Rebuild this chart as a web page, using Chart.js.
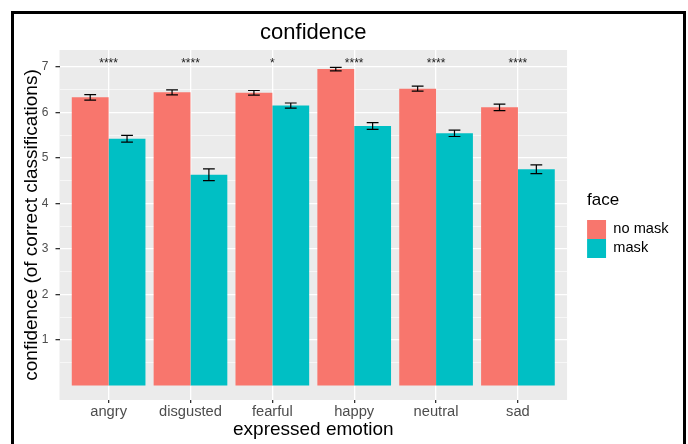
<!DOCTYPE html>
<html lang="en">
  <head>
    <meta charset="UTF-8" />
    <script src="https://cdn.jsdelivr.net/npm/chart.js@4/dist/chart.umd.min.js"></script>
    <title>confidence</title>
    <style>
      body { margin: 0; background: #fff; }
      #frame {
        position: absolute; left: 11px; top: 11px;
        width: 669px; height: 500px;
        border: 3px solid #000; background: #fff;
      }
      #chart { position: absolute; left: 0; top: 0; }
    </style>
  </head>
  <body>
    <div id="frame"></div>
    <canvas id="chart" width="688" height="444"></canvas>

    <script>
      // data
      const categories = ["angry", "disgusted", "fearful", "happy", "neutral", "sad"];
      const noMask = [6.33, 6.44, 6.43, 6.95, 6.52, 6.11];
      const mask = [5.42, 4.63, 6.15, 5.70, 5.54, 4.75];
      const noMaskErr = [0.06, 0.055, 0.05, 0.04, 0.055, 0.07];
      const maskErr = [0.075, 0.13, 0.055, 0.075, 0.07, 0.095];
      const stars = ["****", "****", "*", "****", "****", "****"];
      const starY = 7.0;
      const yLabels = [1, 2, 3, 4, 5, 6, 7];
      const yGrid = [0.5, 1, 1.5, 2, 2.5, 3, 3.5, 4, 4.5, 5, 5.5, 6, 6.5, 7];

      Chart.defaults.font.family = "'Liberation Sans', Arial, sans-serif";

      const toXY = (arr) => arr.map((v, i) => ({ x: i + 1, y: v }));

      // grey ggplot panel
      const panelBg = {
        id: "panelBg",
        beforeDraw(chart) {
          const { ctx, chartArea: a } = chart;
          ctx.save();
          ctx.fillStyle = "#EBEBEB";
          ctx.fillRect(a.left, a.top, a.right - a.left, a.bottom - a.top);
          ctx.restore();
        },
      };

      // error bars + significance stars
      const extras = {
        id: "extras",
        afterDatasetsDraw(chart) {
          const { ctx } = chart;
          const y = chart.scales.y;
          const x = chart.scales.x;
          const errs = [noMaskErr, maskErr];
          ctx.save();
          ctx.strokeStyle = "#000";
          ctx.lineWidth = 1.2;
          chart.data.datasets.forEach((ds, d) => {
            chart.getDatasetMeta(d).data.forEach((bar, i) => {
              const v = ds.data[i].y;
              const e = errs[d][i];
              const hi = y.getPixelForValue(v + e);
              const lo = y.getPixelForValue(v - e);
              const half = bar.width * 0.16;
              ctx.beginPath();
              ctx.moveTo(bar.x, hi); ctx.lineTo(bar.x, lo);
              ctx.moveTo(bar.x - half, hi); ctx.lineTo(bar.x + half, hi);
              ctx.moveTo(bar.x - half, lo); ctx.lineTo(bar.x + half, lo);
              ctx.stroke();
            });
          });
          ctx.fillStyle = "#222";
          ctx.font = "12px 'Liberation Sans', Arial, sans-serif";
          ctx.textAlign = "center";
          ctx.textBaseline = "alphabetic";
          stars.forEach((s, i) => {
            ctx.fillText(s, x.getPixelForValue(i + 1), y.getPixelForValue(starY));
          });
          ctx.restore();
        },
      };

      const ctx = document.getElementById("chart").getContext("2d");
      const myChart = new Chart(ctx, {
        type: "bar",
        data: {
          datasets: [
            {
              label: "no mask",
              data: toXY(noMask),
              backgroundColor: "#F8766D",
              borderWidth: 0,
              categoryPercentage: 0.9,
              barPercentage: 1.0,
            },
            {
              label: "mask",
              data: toXY(mask),
              backgroundColor: "#00BFC4",
              borderWidth: 0,
              categoryPercentage: 0.9,
              barPercentage: 1.0,
            },
          ],
        },
        options: {
          responsive: false,
          animation: false,
          layout: { padding: { left: 14, right: 9.5, top: 0, bottom: 0 } },
          scales: {
            x: {
              type: "linear",
              min: 0.4,
              max: 6.6,
              offset: false,
              afterBuildTicks: (s) => { s.ticks = categories.map((c, i) => ({ value: i + 1 })); },
              afterFit: (s) => { s.height = 44; },
              ticks: {
                callback: (v) => categories[v - 1] || "",
                color: "#4D4D4D",
                font: { size: 14.7 },
                padding: 0.5,
                maxRotation: 0,
                autoSkip: false,
              },
              grid: { offset: false, color: "#fff", lineWidth: 1.3, tickColor: "#333", tickLength: 3 },
              border: { display: false },
              title: {
                display: true,
                text: "expressed emotion",
                color: "#000",
                font: { size: 19 },
                padding: { top: 0, bottom: 2.6 },
              },
            },
            y: {
              min: -0.32,
              max: 7.37,
              afterBuildTicks: (s) => { s.ticks = yGrid.map((v) => ({ value: v })); },
              afterFit: (s) => { s.width = 45.5; },
              ticks: {
                callback: (v) => (yLabels.includes(v) ? String(v) : ""),
                color: "#4D4D4D",
                font: { size: 12 },
                padding: 7,
              },
              grid: {
                color: "#fff",
                lineWidth: (c) => (c.tick && c.tick.value % 1 === 0 ? 1.3 : 0.6),
                tickColor: (c) => (c.tick && c.tick.value % 1 === 0 ? "#333" : "rgba(0,0,0,0)"),
                tickLength: 4,
              },
              border: { display: false },
              title: {
                display: true,
                text: "confidence (of correct classifications)",
                color: "#000",
                font: { size: 19 },
                padding: { top: 6.6, bottom: 0 },
              },
            },
            // empty gap between panel and legend
            gap: {
              type: "linear",
              position: "right",
              display: true,
              grid: { display: false },
              ticks: { display: false },
              border: { display: false },
              afterFit: (s) => { s.width = 20; },
            },
          },
          plugins: {
            title: {
              display: true,
              text: "confidence",
              color: "#000",
              fullSize: false,
              font: { size: 22, weight: "normal" },
              padding: { top: 19.8, bottom: 3.8 },
            },
            legend: {
              display: true,
              position: "right",
              fullSize: false,
              align: "center",
              title: {
                display: true,
                text: "face",
                position: "start",
                color: "#000",
                font: { size: 17 },
                padding: { top: 0, bottom: 7.5 },
              },
              labels: {
                boxWidth: 19,
                boxHeight: 19,
                padding: 0,
                color: "#000",
                font: { size: 14.6 },
              },
            },
            tooltip: { enabled: false },
          },
        },
        plugins: [panelBg, extras],
      });
    </script>
  </body>
</html>
